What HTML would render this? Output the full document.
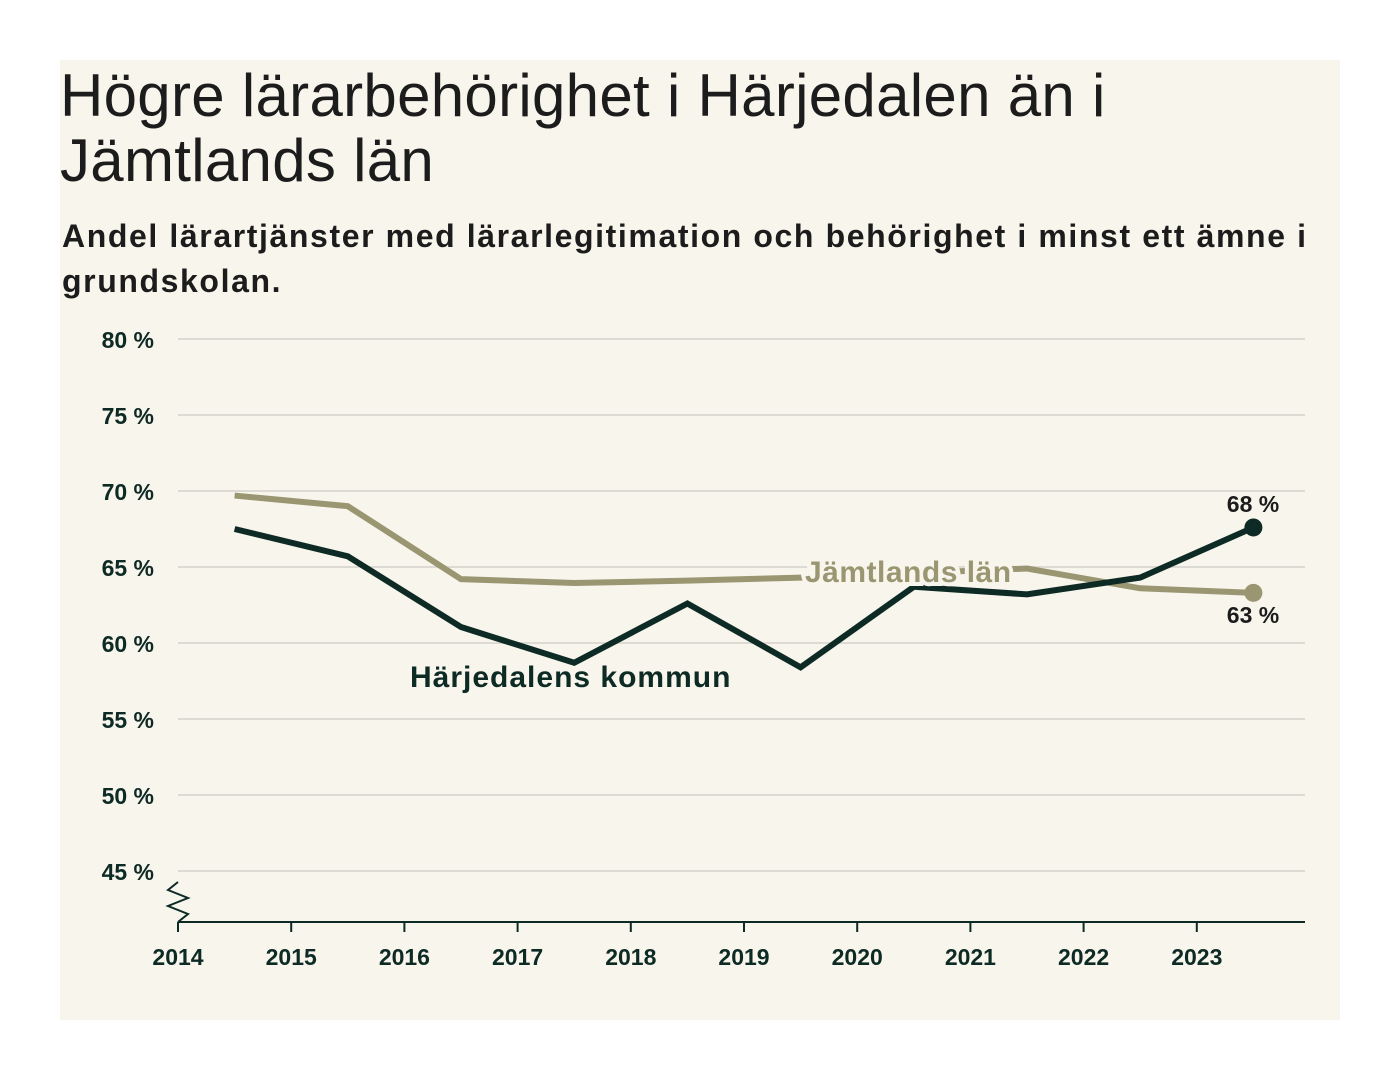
<!DOCTYPE html>
<html><head><meta charset="utf-8"><style>
body{margin:0;width:1400px;height:1080px;background:#fff;font-family:"Liberation Sans","DejaVu Sans",sans-serif;}
#panel{position:absolute;left:60px;top:60px;width:1280px;height:960px;background:#f7f5ec;}
h1{position:absolute;left:60px;top:63px;margin:0;font-size:60px;line-height:65px;font-weight:normal;color:#1c1c1c;width:1270px;letter-spacing:0.3px;white-space:nowrap}
#sub{position:absolute;left:62px;top:214px;margin:0;font-size:32px;line-height:45px;font-weight:bold;color:#1c1c1c;width:1270px;letter-spacing:1.6px;white-space:nowrap}
svg{position:absolute;left:0;top:0}
</style></head><body>
<div id="panel"></div>
<h1>Högre lärarbehörighet i Härjedalen än i<br>Jämtlands län</h1>
<p id="sub">Andel lärartjänster med lärarlegitimation och behörighet i minst ett ämne i<br>grundskolan.</p>
<svg id="chart" width="1400" height="1080"></svg>
<script>
const years=[2014,2015,2016,2017,2018,2019,2020,2021,2022,2023];
const harjedalen=[67.5,65.7,61.05,58.7,62.6,58.4,63.7,63.2,64.3,67.6];
const jamtland=[69.7,69.0,64.2,63.95,64.1,64.3,64.6,64.9,63.6,63.3];
const yTicks=[45,50,55,60,65,70,75,80];
const yTickLabels=["45 %","50 %","55 %","60 %","65 %","70 %","75 %","80 %"];
const endLabels=["68 %","63 %"];
const NS="http://www.w3.org/2000/svg";
const svg=document.getElementById('chart');
const x=v=>178+(v-2014)*113.2;
const y=v=>339+(80-v)*15.2;
function mk(t,a,p){const e=document.createElementNS(NS,t);for(const k in a)e.setAttribute(k,a[k]);(p||svg).appendChild(e);return e;}
yTicks.forEach((t,i)=>{
  const g=mk('line',{x1:178,x2:1305,y1:y(t),y2:y(t),stroke:'#dcdad2','stroke-width':2});
  
  
  const l=mk('text',{x:154,y:y(t)+9,'text-anchor':'end','font-size':23,fill:'#0d2a24','font-weight':'bold'});
  l.textContent=yTickLabels[i];
  
  
});
const ax=mk('line',{x1:178,x2:1305,y1:922,y2:922,stroke:'#0d2a24','stroke-width':2});


const br=mk('path',{d:'M178 882 L168 890 L188 898 L168 906 L188 914 L178 922',fill:'none',stroke:'#0d2a24','stroke-width':2});


years.forEach(yr=>{
  const t=mk('line',{x1:x(yr),x2:x(yr),y1:922,y2:932,stroke:'#0d2a24','stroke-width':2});
  
  
  const l=mk('text',{x:x(yr),y:965,'text-anchor':'middle','font-size':23,fill:'#0d2a24','font-weight':'bold'});
  l.textContent=yr;
  
  
});
function line(vals,col,name){
  const d=vals.map((v,i)=>(i?'L':'M')+x(years[i]+0.5)+' '+y(v)).join(' ');
  const p=mk('path',{d:d,fill:'none',stroke:col,'stroke-width':6,'stroke-linejoin':'miter'});
  
  
  const n=vals.length-1;
  const c=mk('circle',{cx:x(years[n]+0.5),cy:y(vals[n]),r:9,fill:col});
  
  
}
line(jamtland,'#9a9672','jamtland-line');
line(harjedalen,'#0d2a24','harjedalen-line');
function lab(txt,xx,yy,col,name,anchor,size,ls){
  const t=mk('text',{x:xx,y:yy,'text-anchor':anchor||'start','font-size':size||30,fill:col,stroke:'#f7f5ec','stroke-width':8,'paint-order':'stroke','font-weight':'bold','letter-spacing':ls||0});
  t.textContent=txt;
  
  
}
lab('Jämtlands län',805,582,'#9a9672','jamtland-label','start',30,0.5);
lab('Härjedalens kommun',410,687,'#0d2a24','harjedalen-label','start',30,1);
lab(endLabels[0],1253,512,'#1c1c1c','harjedalen-end-label','middle',23);
lab(endLabels[1],1253,623,'#1c1c1c','jamtland-end-label','middle',23);
</script>
</body></html>
